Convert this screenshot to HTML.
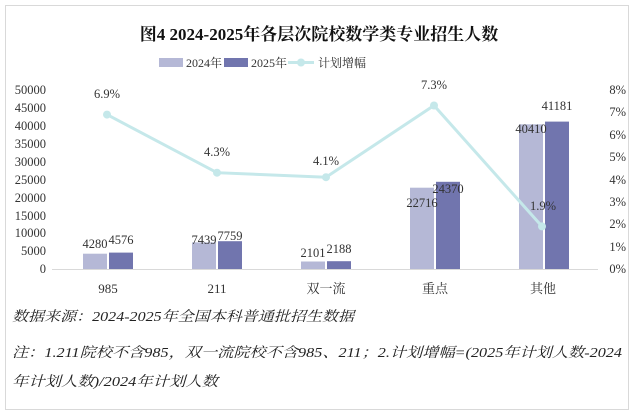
<!DOCTYPE html>
<html><head><meta charset="utf-8"><style>
body{margin:0;background:#fff;}
svg text{font-family:"Liberation Serif","Noto Serif CJK SC",serif;}
</style></head><body>
<svg width="634" height="412" xmlns="http://www.w3.org/2000/svg">
<rect x="5.5" y="5.5" width="623" height="404" fill="#fff" stroke="#d9d9d9"/>
<text x="319" y="40" font-size="17" font-weight="bold" text-anchor="middle" fill="#111">图4  2024-2025年各层次院校数学类专业招生人数</text>
<rect x="159" y="58" width="24" height="9" fill="#b5b8d6"/>
<text x="186" y="67" font-size="12" fill="#333">2024年</text>
<rect x="224" y="58" width="24" height="9" fill="#7175ae"/>
<text x="251" y="67" font-size="12" fill="#333">2025年</text>
<line x1="288" y1="62.5" x2="314" y2="62.5" stroke="#c5e8ea" stroke-width="3"/>
<circle cx="301" cy="62.5" r="4" fill="#c5e8ea"/>
<text x="318" y="67" font-size="12" fill="#333">计划增幅</text>
<g font-size="12.5" fill="#333" text-anchor="end">
<text x="46" y="94">50000</text><text x="46" y="112">45000</text><text x="46" y="130">40000</text><text x="46" y="148">35000</text><text x="46" y="166">30000</text><text x="46" y="184">25000</text><text x="46" y="202">20000</text><text x="46" y="220">15000</text><text x="46" y="237">10000</text><text x="46" y="255">5000</text><text x="46" y="273">0</text>
</g>
<g font-size="12.5" fill="#333" text-anchor="end">
<text x="626" y="94">8%</text><text x="626" y="116">7%</text><text x="626" y="139">6%</text><text x="626" y="161">5%</text><text x="626" y="184">4%</text><text x="626" y="206">3%</text><text x="626" y="228">2%</text><text x="626" y="251">1%</text><text x="626" y="273">0%</text>
</g>
<line x1="52" y1="269.5" x2="598" y2="269.5" stroke="#d9d9d9"/>
<g>
<rect x="83" y="253.7" width="24" height="15.3" fill="#b5b8d6"/><rect x="109" y="252.6" width="24" height="16.4" fill="#7175ae"/>
<rect x="192" y="242.4" width="24" height="26.6" fill="#b5b8d6"/><rect x="218" y="241.2" width="24" height="27.8" fill="#7175ae"/>
<rect x="301" y="261.5" width="24" height="7.5" fill="#b5b8d6"/><rect x="327" y="261.2" width="24" height="7.8" fill="#7175ae"/>
<rect x="410" y="187.7" width="24" height="81.3" fill="#b5b8d6"/><rect x="436" y="181.8" width="24" height="87.2" fill="#7175ae"/>
<rect x="519" y="124.3" width="24" height="144.7" fill="#b5b8d6"/><rect x="545" y="121.6" width="24" height="147.4" fill="#7175ae"/>
</g>
<g font-size="12.5" fill="#333" text-anchor="middle">
<text x="95" y="248">4280</text><text x="121" y="244">4576</text>
<text x="204" y="244">7439</text><text x="230" y="240">7759</text>
<text x="313" y="257">2101</text><text x="339" y="253">2188</text>
<text x="422" y="207">22716</text><text x="448" y="193">24370</text>
<text x="531" y="133">40410</text><text x="557" y="110">41181</text>
</g>
<polyline points="107,114.6 217,172.7 326,177.2 434,105.5 542,226.4" fill="none" stroke="#c5e8ea" stroke-width="3"/>
<g fill="#c5e8ea"><circle cx="107" cy="114.6" r="4"/><circle cx="217" cy="172.7" r="4"/><circle cx="326" cy="177.2" r="4"/><circle cx="434" cy="105.5" r="4"/><circle cx="542" cy="226.4" r="4"/></g>
<g font-size="12.5" fill="#333" text-anchor="middle">
<text x="107" y="98">6.9%</text><text x="217" y="156">4.3%</text><text x="326" y="165">4.1%</text><text x="434" y="89">7.3%</text><text x="543" y="210">1.9%</text>
</g>
<g font-size="13" fill="#333" text-anchor="middle">
<text x="108" y="293">985</text><text x="217" y="293">211</text><text x="326" y="293">双一流</text><text x="435" y="293">重点</text><text x="543" y="293">其他</text>
</g>
<g font-size="14" fill="#222" font-style="italic">
<text x="12" y="321" textLength="342" lengthAdjust="spacingAndGlyphs">数据来源：2024-2025年全国本科普通批招生数据</text>
<text x="12" y="357" textLength="610" lengthAdjust="spacingAndGlyphs">注：1.211院校不含985，双一流院校不含985、211；2.计划增幅=(2025年计划人数-2024</text>
<text x="12" y="386" textLength="206" lengthAdjust="spacingAndGlyphs">年计划人数)/2024年计划人数</text>
</g>
</svg>
</body></html>
